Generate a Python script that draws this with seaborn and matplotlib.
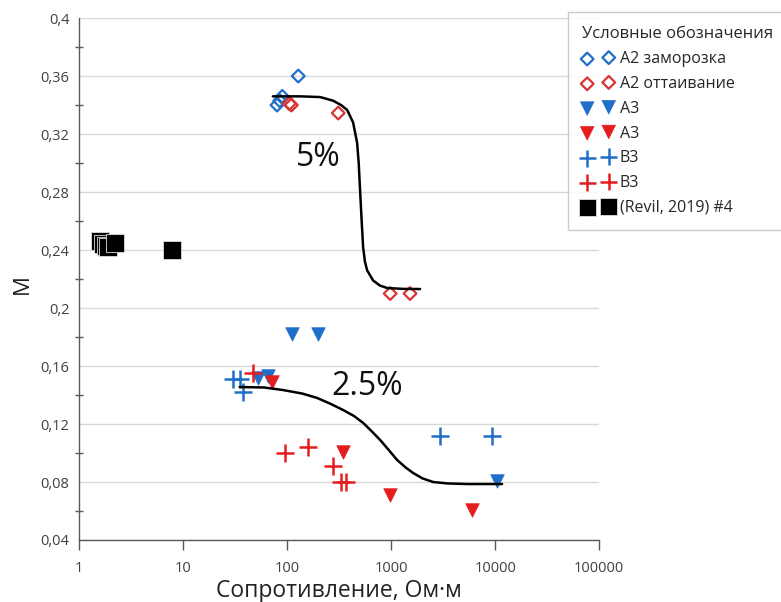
import matplotlib
matplotlib.use("Agg")
import matplotlib.pyplot as plt
import matplotlib.ticker as mticker
import seaborn as sns
import numpy as np

# ---------------- data ----------------
a2_freeze_x = [80, 85, 90, 128]
a2_freeze_y = [0.340, 0.343, 0.346, 0.360]

a2_thaw_x = [105, 110, 310, 980, 1520]
a2_thaw_y = [0.341, 0.340, 0.3345, 0.210, 0.210]

a3_blue_x = [52, 66, 112, 199, 10500]
a3_blue_y = [0.152, 0.153, 0.182, 0.182, 0.081]

a3_red_x = [72, 345, 980, 6000]
a3_red_y = [0.149, 0.101, 0.071, 0.061]

b3_blue_x = [30, 35, 38, 2950, 9300]
b3_blue_y = [0.151, 0.151, 0.142, 0.112, 0.112]

b3_red_x = [47, 96, 160, 277, 330, 370]
b3_red_y = [0.155, 0.100, 0.104, 0.091, 0.080, 0.080]

revil_x = [1.6, 1.7, 1.8, 1.9, 2.2, 7.8]
revil_y = [0.246, 0.244, 0.243, 0.242, 0.245, 0.240]

curve5_x = [73, 134, 208, 277, 330, 378, 431, 471, 488, 504, 521, 538, 560, 588, 671, 780, 915, 1300, 1900]
curve5_y = [0.346, 0.346, 0.3455, 0.343, 0.340, 0.3366, 0.328, 0.314, 0.300, 0.280, 0.260, 0.242, 0.232, 0.226, 0.219, 0.2155, 0.2138, 0.2132, 0.2131]

curve25_x = [35, 60, 92, 140, 194, 260, 345, 440, 540, 650, 784, 950, 1142, 1380, 1630, 2000, 2530, 3500, 5380, 8000, 11650]
curve25_y = [0.1455, 0.1452, 0.1434, 0.141, 0.138, 0.134, 0.1297, 0.1255, 0.1207, 0.115, 0.109, 0.102, 0.0952, 0.0900, 0.0862, 0.0825, 0.0800, 0.0790, 0.0786, 0.0786, 0.0786]

yticks = [0.04, 0.08, 0.12, 0.16, 0.2, 0.24, 0.28, 0.32, 0.36, 0.4]
ytick_labels = ["0,04", "0,08", "0,12", "0,16", "0,2", "0,24", "0,28", "0,32", "0,36", "0,4"]
xticks = [1, 10, 100, 1000, 10000, 100000]
xtick_labels = ["1", "10", "100", "1000", "10000", "100000"]

labels = ["А2 заморозка", "А2 оттаивание", "А3", "А3", "В3", "В3", "(Revil, 2019) #4"]
legend_title = "Условные обозначения"
xlabel = "Сопротивление, Ом·м"
ylabel = "M"

# ---------------- style ----------------
sns.set_theme(style="white")
plt.rcParams["font.family"] = ["Open Sans", "DejaVu Sans"]

BLUE = "#1F6FC8"
RED = "#E41E1E"
RED_D = "#D93434"

fig = plt.figure(figsize=(7.81, 6.02), dpi=100)
ax = fig.add_axes([0.1012, 0.103, 0.666, 0.867])

sns.scatterplot(x=a2_freeze_x, y=a2_freeze_y, marker="D", s=42, facecolor="none",
                edgecolor=BLUE, linewidth=1.6, color=BLUE, label=labels[0], ax=ax, zorder=3)
sns.scatterplot(x=a2_thaw_x, y=a2_thaw_y, marker="D", s=42, facecolor="none",
                edgecolor=RED_D, linewidth=1.6, color=RED_D, label=labels[1], ax=ax, zorder=3)
sns.scatterplot(x=a3_blue_x, y=a3_blue_y, marker="v", s=95, color=BLUE,
                edgecolor=BLUE, linewidth=0.5, label=labels[2], ax=ax, zorder=3)
sns.scatterplot(x=a3_red_x, y=a3_red_y, marker="v", s=95, color=RED,
                edgecolor=RED, linewidth=0.5, label=labels[3], ax=ax, zorder=3)
sns.scatterplot(x=b3_blue_x, y=b3_blue_y, marker="+", s=150, color=BLUE,
                linewidth=1.8, label=labels[4], ax=ax, zorder=3)
sns.scatterplot(x=b3_red_x, y=b3_red_y, marker="+", s=150, color=RED,
                linewidth=1.8, label=labels[5], ax=ax, zorder=3)
sns.scatterplot(x=revil_x, y=revil_y, marker="s", s=150, color="black",
                edgecolor="#dddddd", linewidth=0.6, label=labels[6], ax=ax, zorder=3)

sns.lineplot(x=curve5_x, y=curve5_y, color="black", linewidth=1.8, ax=ax,
             sort=False, estimator=None, zorder=4)
sns.lineplot(x=curve25_x, y=curve25_y, color="black", linewidth=1.8, ax=ax,
             sort=False, estimator=None, zorder=4)

ax.text(199, 0.304, "5%", fontsize=23, ha="center", va="center", color="#111111")
ax.text(590, 0.146, "2.5%", fontsize=23, ha="center", va="center", color="#111111")

ax.set_xscale("log")
ax.set_xlim(1, 100000)
ax.set_ylim(0.04, 0.4)
ax.set_xticks(xticks)
ax.set_xticklabels(xtick_labels)
ax.xaxis.set_minor_locator(mticker.NullLocator())
ax.set_yticks(yticks)
ax.set_yticklabels(ytick_labels)
ax.yaxis.set_minor_locator(mticker.FixedLocator([0.06, 0.10, 0.14, 0.18, 0.22, 0.26, 0.30, 0.34, 0.38]))

ax.grid(axis="y", which="major", color="#d9d9d9", linewidth=1.0)
ax.grid(axis="x", visible=False)
ax.set_axisbelow(True)

for s in ["top", "right"]:
    ax.spines[s].set_visible(False)
for s in ["left", "bottom"]:
    ax.spines[s].set_color("#595959")
    ax.spines[s].set_linewidth(1.0)

ax.tick_params(axis="x", which="major", direction="out", length=7, width=1, color="#595959",
               bottom=True, labelsize=10.5, labelcolor="#404040", pad=8)
ax.tick_params(axis="y", which="major", left=False, length=0, labelsize=10.5,
               labelcolor="#404040", pad=7)
ax.tick_params(axis="y", which="minor", direction="inout", length=6, width=1, color="#595959", left=True)

ax.set_xlabel(xlabel, fontsize=16.5, color="#222222", labelpad=2)
ax.set_ylabel(ylabel, fontsize=16, color="#222222")
ax.yaxis.set_label_coords(-0.088, 0.49)

leg = ax.get_legend()
if leg is not None:
    leg.remove()
handles, lbls = ax.get_legend_handles_labels()
leg = fig.legend(handles[:7], lbls[:7], title=legend_title, loc="upper left",
                 bbox_to_anchor=(0.7273, 0.980, 0.30, 0.0), mode="expand",
                 scatterpoints=2, numpoints=2,
                 frameon=True, fancybox=False, edgecolor="#bfbfbf", fontsize=11.5,
                 title_fontsize=12, borderpad=0.9, labelspacing=0.55, handletextpad=0.4,
                 handlelength=1.95, alignment="left", borderaxespad=0)
leg.get_frame().set_linewidth(1.0)
for t in leg.get_texts():
    t.set_color("#262626")
leg.get_title().set_color("#262626")

fig.savefig("out.png", dpi=100)
